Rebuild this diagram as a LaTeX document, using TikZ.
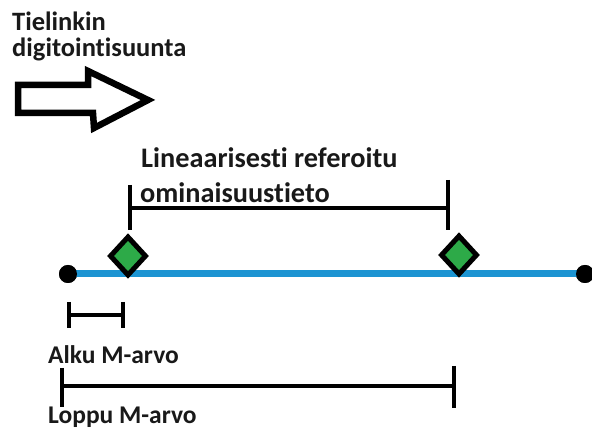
\documentclass[tikz,border=0pt]{standalone}
\usepackage{fontspec}
\setmainfont{Carlito}[RawFeature={-liga;-clig;-dlig}]
\usetikzlibrary{shapes.geometric}
\definecolor{roadblue}{RGB}{28,148,210}
\definecolor{markgreen}{RGB}{45,170,72}
\definecolor{ink}{RGB}{25,25,25}
\tikzset{
  lbl/.style={anchor=base west, inner sep=0pt, text=ink, font=\bfseries\fontsize{26.5}{26.5}\selectfont},
  endpt/.style={circle, fill=black, inner sep=0pt, minimum size=18pt},
  mmark/.style={diamond, draw=black, fill=markgreen, line width=5pt, inner sep=0pt, minimum width=37pt, minimum height=40pt},
  brk/.style={line width=4pt, black},
  road/.style={line width=7pt, roadblue},
  dirarrow/.style={line width=6.5pt, black, line join=miter}
}
\begin{document}
\begin{tikzpicture}[x=1pt,y=-1pt]
\useasboundingbox (0,0) rectangle (592,430);
\fill[white] (0,0) rectangle (592,430);
% labels
\node[lbl] (t1) at (12,31) {Tielinkin};
\node[lbl] (t2) at (12,57) {digitointisuunta};
\node[lbl, font=\bfseries\fontsize{28.3}{28.3}\selectfont] (t3) at (141,168) {Lineaarisesti referoitu};
\node[lbl, font=\bfseries\fontsize{28.3}{28.3}\selectfont] (t4) at (140,203) {ominaisuustieto};
\node[lbl, font=\bfseries\fontsize{25.5}{25.5}\selectfont] (t5) at (48,363) {Alku M-arvo};
\node[lbl, font=\bfseries\fontsize{25.5}{25.5}\selectfont] (t6) at (48,424) {Loppu M-arvo};
% direction arrow
\draw[dirarrow] (18,85) -- (88,85) -- (88,71) -- (148,100) -- (94,128) -- (93,113) -- (18,113) -- cycle;
% road
\node[endpt] (a) at (68,274) {};
\node[endpt] (b) at (585,274) {};
\draw[road] (a.center) -- (b.center);
\node[endpt] at (68,274) {};
\node[endpt] at (585,274) {};
\node[mmark] (m1) at (128,256) {};
\node[mmark] (m2) at (459,255) {};
% top bracket
\coordinate (p1t) at (130,185);
\coordinate (p1b) at (130,230);
\coordinate (p2t) at (448,180);
\coordinate (p2b) at (448,230);
\coordinate (p1m) at (130,208);
\coordinate (p2m) at (448,208);
\draw[brk] (p1t) -- (p1b);
\draw[brk] (p2t) -- (p2b);
\draw[brk] (p1m) -- (p2m);
% Alku bracket
\coordinate (q1t) at (69,302);
\coordinate (q1b) at (69,328);
\coordinate (q2t) at (123,302);
\coordinate (q2b) at (123,328);
\coordinate (q1m) at (69,315);
\coordinate (q2m) at (123,315);
\draw[brk] (q1t) -- (q1b);
\draw[brk] (q2t) -- (q2b);
\draw[brk] (q1m) -- (q2m);
% Loppu bracket
\coordinate (r1t) at (62,368);
\coordinate (r1b) at (62,407);
\coordinate (r2t) at (454,366);
\coordinate (r2b) at (454,408);
\coordinate (r1m) at (62,386);
\coordinate (r2m) at (454,386);
\draw[brk] (r1t) -- (r1b);
\draw[brk] (r2t) -- (r2b);
\draw[brk] (r1m) -- (r2m);
\end{tikzpicture}
\end{document}
